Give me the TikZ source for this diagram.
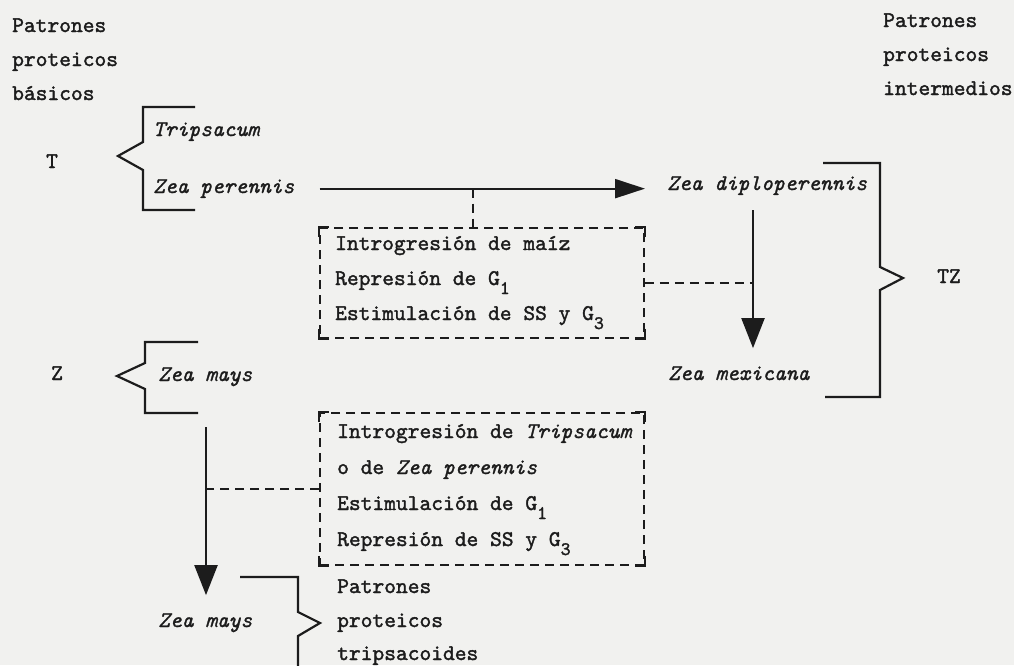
\documentclass[tikz,border=0pt]{standalone}
\usepackage{fontspec}
\setmainfont{lmmono10-regular.otf}[ItalicFont=lmmono10-italic.otf, FakeBold=1.6, ItalicFeatures={FakeBold=1.2}]
\usetikzlibrary{arrows.meta,calc}
\definecolor{bg}{RGB}{241,241,239}
\definecolor{ink}{RGB}{28,28,28}
\newcommand{\sbs}[1]{\raisebox{-9pt}{\fontsize{19}{19}\selectfont #1}}
\begin{document}
\begin{tikzpicture}[x=1pt,y=-1pt,
  txt/.style={anchor=base west,inner sep=0pt,font=\fontsize{22.4}{35}\selectfont,text=ink},
  itx/.style={txt,font=\fontsize{22.4}{35}\selectfont\itshape},
  brk/.style={draw=ink,line width=2.2pt,line join=miter},
  dsh/.style={draw=ink,line width=1.8pt,dash pattern=on 9pt off 6pt},
  dbox/.style={dsh,rectangle,inner sep=0pt},
  crn/.style={draw=ink,line width=1.8pt},
  arrH/.style={draw=ink,line width=2.2pt,-{Triangle[length=30pt,width=19pt]}},
  arrV/.style={draw=ink,line width=2.2pt,-{Triangle[length=30pt,width=23pt]}}
]
\fill[bg] (0,0) rectangle (1014,665);
\useasboundingbox (0,0) rectangle (1014,665);

% headings
\node[txt] (tl1) at (12,32) {Patrones};
\node[txt] (tl2) at (12,66) {proteicos};
\node[txt] (tl3) at (12,100) {básicos};
\node[txt] (tr1) at (883,27) {Patrones};
\node[txt] (tr2) at (883,61) {proteicos};
\node[txt] (tr3) at (883,95) {intermedios};

% T group
\node[txt,anchor=base] (T) at (52,168) {T};
\draw[brk] (195,107) -- (143,107) -- (143,142) -- (118,156) -- (143,170) -- (143,210) -- (195,210);
\node[itx] (trip) at (153,136) {Tripsacum};
\node[itx] (zp) at (153,193) {Zea perennis};
\node[itx] (zd) at (667,190) {Zea diploperennis};
\node[itx] (zm) at (668,380) {Zea mexicana};

% TZ bracket
\draw[brk] (823,163) -- (880,163) -- (880,267) -- (903,278) -- (880,290) -- (880,397) -- (825,397);
\node[txt] (TZ) at (937,283) {TZ};

% Z group
\node[txt,anchor=base] (Z) at (57,380) {Z};
\draw[brk] (198,342) -- (145,342) -- (145,363) -- (117,376) -- (145,389) -- (145,413) -- (198,413);
\node[itx] (zm1) at (158,381) {Zea mays};

% boxes
\node[dbox,minimum width=324pt,minimum height=110pt] (box1) at (482,283) {};
\node[dbox,minimum width=324pt,minimum height=152pt] (box2) at (482,489) {};
\foreach \b in {box1,box2}{
  \draw[crn] ([yshift=-10pt]\b.north west) -- (\b.north west) -- ([xshift=10pt]\b.north west);
  \draw[crn] ([yshift=-10pt]\b.north east) -- (\b.north east) -- ([xshift=-10pt]\b.north east);
  \draw[crn] ([yshift=10pt]\b.south west) -- (\b.south west) -- ([xshift=10pt]\b.south west);
  \draw[crn] ([yshift=10pt]\b.south east) -- (\b.south east) -- ([xshift=-10pt]\b.south east);
}
\node[txt] (b1a) at (335,250) {Introgresión de maíz};
\node[txt] (b1b) at (335,285) {Represión de G\sbs{1}};
\node[txt] (b1c) at (335,320) {Estimulación de SS y G\sbs{3}};

\node[txt] (b2a) at (337,438) {Introgresión de \textit{Tripsacum}};
\node[txt] (b2b) at (337,474) {o de \textit{Zea perennis}};
\node[txt] (b2c) at (337,510) {Estimulación de G\sbs{1}};
\node[txt] (b2d) at (337,546) {Represión de SS y G\sbs{3}};

% lower group
\node[itx] (zm2) at (158,627) {Zea mays};
\draw[brk] (240,577) -- (298,577) -- (298,612) -- (320,623) -- (298,636) -- (298,672);
\node[txt] (bl1) at (337,593) {Patrones};
\node[txt] (bl2) at (337,627) {proteicos};
\node[txt] (bl3) at (337,660) {tripsacoides};

% connectors
\coordinate (j1) at (473,0);
\coordinate (v1) at (753,210);
\coordinate (v2) at (206,427);
\draw[arrH] ([xshift=25pt]zp.east) -- ([xshift=-22pt]zp.east -| zd.west);
\draw[dsh] (zp.east -| j1) -- (j1 |- box1.north);
\draw[arrV] (v1) -- ([yshift=18pt]v1 |- zm.north);
\draw[dsh] (box1.east) -- (box1.east -| v1);
\draw[arrV] (v2) -- ([yshift=18pt]v2 |- zm2.north);
\draw[dsh] (box2.west) -- (box2.west -| v2);
\end{tikzpicture}
\end{document}
